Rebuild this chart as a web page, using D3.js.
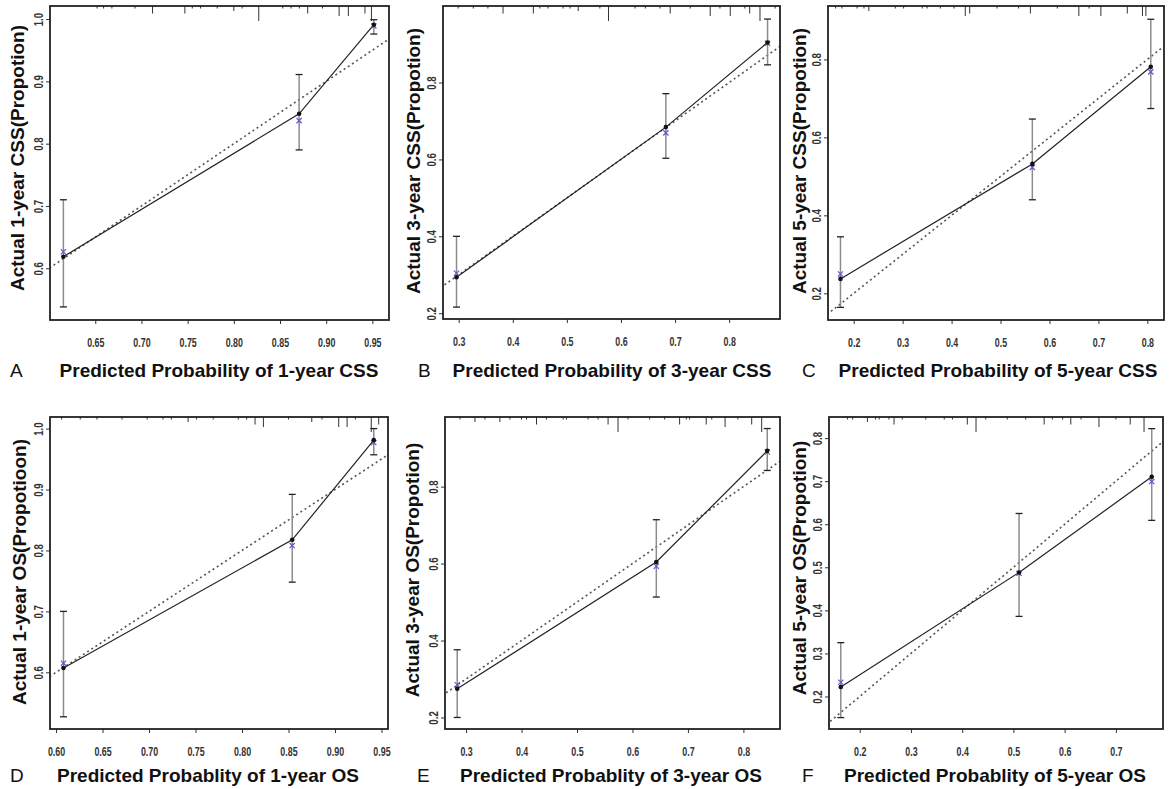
<!DOCTYPE html>
<html>
<head>
<meta charset="utf-8">
<script src="https://cdn.jsdelivr.net/npm/d3@7"></script>
<style>
  body { margin: 0; background: #fff; }
</style>
</head>
<body>
<div class="graph"></div>
<script>
// panel letters and axis titles
var panels = ["A", "B", "C", "D", "E", "F"];
var xTitles = [
  "Predicted Probability of 1-year CSS",
  "Predicted Probability of 3-year CSS",
  "Predicted Probability of 5-year CSS",
  "Predicted Probablity of 1-year OS",
  "Predicted Probablity of 3-year OS",
  "Predicted Probablity of 5-year OS"
];
var yTitles = [
  "Actual 1-year CSS(Propotion)",
  "Actual 3-year CSS(Propotion)",
  "Actual 5-year CSS(Propotion)",
  "Actual 1-year OS(Propotioon)",
  "Actual 3-year OS(Propotion)",
  "Actual 5-year OS(Propotion)"
];

// axis limits and ticks
var xDomains = [[0.601, 0.968], [0.271, 0.894], [0.1475, 0.834], [0.5935, 0.957], [0.262, 0.866], [0.14, 0.792]];
var yDomains = [[0.517, 1.021], [0.185, 0.999], [0.1316, 0.937], [0.507, 1.019], [0.17, 0.981], [0.1245, 0.849]];
var xTicks = [
  [0.65, 0.70, 0.75, 0.80, 0.85, 0.90, 0.95],
  [0.3, 0.4, 0.5, 0.6, 0.7, 0.8],
  [0.2, 0.3, 0.4, 0.5, 0.6, 0.7, 0.8],
  [0.60, 0.65, 0.70, 0.75, 0.80, 0.85, 0.90, 0.95],
  [0.3, 0.4, 0.5, 0.6, 0.7, 0.8],
  [0.2, 0.3, 0.4, 0.5, 0.6, 0.7]
];
var yTicks = [
  [0.6, 0.7, 0.8, 0.9, 1.0],
  [0.2, 0.4, 0.6, 0.8],
  [0.2, 0.4, 0.6, 0.8],
  [0.6, 0.7, 0.8, 0.9, 1.0],
  [0.2, 0.4, 0.6, 0.8],
  [0.2, 0.3, 0.4, 0.5, 0.6, 0.7, 0.8]
];
var xFormats = [".2f", ".1f", ".1f", ".2f", ".1f", ".1f"];

// calibration groups: predicted, observed (KM), bias-corrected, CI
var predicted = [
  [0.6155, 0.8707, 0.9516],
  [0.296, 0.683, 0.871],
  [0.173, 0.565, 0.807],
  [0.608, 0.854, 0.9417],
  [0.284, 0.643, 0.843],
  [0.163, 0.511, 0.770]
];
var observed = [
  [0.6186, 0.848, 0.991],
  [0.2935, 0.684, 0.904],
  [0.237, 0.532, 0.781],
  [0.607, 0.8175, 0.981],
  [0.2745, 0.604, 0.893],
  [0.222, 0.488, 0.710]
];
var corrected = [
  [0.6266, 0.837, 0.989],
  [0.304, 0.669, 0.902],
  [0.2495, 0.523, 0.768],
  [0.615, 0.808, 0.977],
  [0.285, 0.593, 0.890],
  [0.233, 0.486, 0.699]
];
var lower = [
  [0.538, 0.790, 0.976],
  [0.216, 0.603, 0.846],
  [0.164, 0.440, 0.674],
  [0.527, 0.748, 0.957],
  [0.200, 0.513, 0.842],
  [0.151, 0.386, 0.609]
];
var upper = [
  [0.710, 0.911, 0.999],
  [0.400, 0.771, 0.965],
  [0.345, 0.647, 0.903],
  [0.700, 0.892, 1.000],
  [0.376, 0.714, 0.951],
  [0.325, 0.625, 0.822]
];

// rug of predicted probabilities along the top (value, relative count)
var rugValues = [
  [0.652, 0.659, 0.668, 0.693, 0.712, 0.747, 0.755, 0.764, 0.782, 0.800, 0.809, 0.827, 0.853, 0.862, 0.871, 0.880, 0.896, 0.914, 0.924, 0.942, 0.949],
  [0.299, 0.327, 0.354, 0.382, 0.438, 0.450, 0.465, 0.493, 0.506, 0.521, 0.561, 0.577, 0.626, 0.645, 0.672, 0.691, 0.728, 0.765, 0.783, 0.802, 0.829, 0.838, 0.857, 0.885],
  [0.163, 0.176, 0.207, 0.221, 0.231, 0.285, 0.302, 0.340, 0.350, 0.377, 0.405, 0.428, 0.437, 0.493, 0.537, 0.561, 0.616, 0.660, 0.681, 0.705, 0.759, 0.790, 0.797],
  [0.606, 0.626, 0.644, 0.671, 0.698, 0.715, 0.724, 0.742, 0.751, 0.769, 0.796, 0.805, 0.814, 0.823, 0.850, 0.875, 0.886, 0.904, 0.913, 0.922, 0.939, 0.947],
  [0.289, 0.316, 0.334, 0.361, 0.379, 0.400, 0.409, 0.427, 0.445, 0.475, 0.481, 0.520, 0.538, 0.556, 0.574, 0.592, 0.631, 0.658, 0.685, 0.697, 0.703, 0.733, 0.743, 0.767, 0.790, 0.815, 0.833],
  [0.176, 0.186, 0.215, 0.231, 0.238, 0.257, 0.267, 0.283, 0.329, 0.365, 0.381, 0.410, 0.427, 0.446, 0.488, 0.524, 0.560, 0.576, 0.596, 0.612, 0.632, 0.667, 0.700, 0.728, 0.755]
];
var rugCounts = [
  [1, 1, 1, 1, 3, 3, 1, 1, 1, 2, 1, 6, 1, 1, 1, 3, 1, 4, 4, 3, 6],
  [1, 1, 1, 3, 3, 1, 1, 1, 1, 2, 1, 6, 1, 1, 1, 3, 1, 4, 1, 4, 1, 3, 6, 1],
  [1, 1, 1, 1, 2, 1, 1, 1, 1, 1, 1, 4, 3, 1, 1, 3, 1, 4, 1, 4, 3, 4, 4],
  [1, 1, 1, 1, 1, 1, 1, 2, 1, 1, 1, 1, 3, 4, 1, 2, 1, 4, 4, 1, 6, 3],
  [1, 2, 1, 2, 1, 1, 1, 3, 1, 1, 1, 1, 1, 3, 6, 1, 1, 1, 3, 1, 1, 3, 1, 4, 1, 3, 6],
  [1, 1, 2, 1, 1, 1, 3, 1, 1, 1, 1, 3, 6, 1, 1, 1, 3, 1, 1, 3, 1, 4, 1, 3, 6]
];

// layout of each panel on the page
var boxes = [
  {l: 50,  t: 6,   r: 389,  b: 320, letterX: 10,  titleCx: 219, base: 377, yTitleX: 24,  yTitleCy: 158},
  {l: 443, t: 6,   r: 780,  b: 319, letterX: 418, titleCx: 612, base: 377, yTitleX: 420, yTitleCy: 161},
  {l: 828, t: 6,   r: 1164, b: 320, letterX: 802, titleCx: 998, base: 377, yTitleX: 806, yTitleCy: 161},
  {l: 50,  t: 417, r: 388,  b: 729, letterX: 10,  titleCx: 208, base: 782, yTitleX: 26,  yTitleCy: 572},
  {l: 445, t: 417, r: 780,  b: 729, letterX: 417, titleCx: 611, base: 782, yTitleX: 419, yTitleCy: 570},
  {l: 829, t: 417, r: 1163, b: 729, letterX: 802, titleCx: 995, base: 782, yTitleX: 806, yTitleCy: 568}
];

var width = 1169,
    height = 789;
var font = "'Liberation Sans', Arial, Helvetica, sans-serif";

var svg = d3.select(".graph").append("svg")
    .attr("width", width)
    .attr("height", height)
    .style("font-family", font);

panels.forEach(function(letter, i) {
  var box = boxes[i];
  var x = d3.scaleLinear().domain(xDomains[i]).range([box.l, box.r]);
  var y = d3.scaleLinear().domain(yDomains[i]).range([box.b, box.t]);
  var g = svg.append("g").attr("class", "panel");

  svg.append("clipPath").attr("id", "clip" + i)
    .append("rect")
      .attr("x", box.l).attr("y", box.t)
      .attr("width", box.r - box.l).attr("height", box.b - box.t);

  // ideal line
  var xd = xDomains[i];
  g.append("line")
      .attr("clip-path", "url(#clip" + i + ")")
      .attr("x1", x(xd[0] - 0.05)).attr("y1", y(xd[0] - 0.05))
      .attr("x2", x(xd[1] + 0.05)).attr("y2", y(xd[1] + 0.05))
      .attr("stroke", "#555")
      .attr("stroke-width", 1.6)
      .attr("stroke-dasharray", "2,3");

  // rug
  g.selectAll(".rug")
    .data(rugValues[i])
    .enter().append("line")
      .attr("class", "rug")
      .attr("x1", function(d) { return x(d); })
      .attr("x2", function(d) { return x(d); })
      .attr("y1", box.t)
      .attr("y2", function(d, j) { return box.t + rugCounts[i][j] * 2.5; })
      .attr("stroke", "#333")
      .attr("stroke-width", 1);

  var idx = d3.range(predicted[i].length);

  // error bars
  g.selectAll(".err")
    .data(idx)
    .enter().append("line")
      .attr("class", "err")
      .attr("x1", function(j) { return x(predicted[i][j]); })
      .attr("x2", function(j) { return x(predicted[i][j]); })
      .attr("y1", function(j) { return y(lower[i][j]); })
      .attr("y2", function(j) { return y(upper[i][j]); })
      .attr("stroke", "#8c8c8c")
      .attr("stroke-width", 1.5);

  [lower[i], upper[i]].forEach(function(arr) {
    g.selectAll(null)
      .data(idx)
      .enter().append("line")
        .attr("x1", function(j) { return x(predicted[i][j]) - 3.5; })
        .attr("x2", function(j) { return x(predicted[i][j]) + 3.5; })
        .attr("y1", function(j) { return y(arr[j]); })
        .attr("y2", function(j) { return y(arr[j]); })
        .attr("stroke", "#222")
        .attr("stroke-width", 1.3);
  });

  // observed line
  var line = d3.line()
      .x(function(j) { return x(predicted[i][j]); })
      .y(function(j) { return y(observed[i][j]); });
  g.append("path")
      .datum(idx)
      .attr("d", line)
      .attr("fill", "none")
      .attr("stroke", "#222")
      .attr("stroke-width", 1.2);

  // bias corrected x marks
  g.selectAll(".xmark")
    .data(idx)
    .enter().append("path")
      .attr("class", "xmark")
      .attr("d", function(j) {
        var cx = x(predicted[i][j]), cy = y(corrected[i][j]), s = 2.6;
        return "M" + (cx - s) + "," + (cy - s) + "L" + (cx + s) + "," + (cy + s) +
               "M" + (cx - s) + "," + (cy + s) + "L" + (cx + s) + "," + (cy - s);
      })
      .attr("stroke", "#5a5ad0")
      .attr("stroke-width", 1.2);

  // observed dots
  g.selectAll(".dot")
    .data(idx)
    .enter().append("circle")
      .attr("class", "dot")
      .attr("cx", function(j) { return x(predicted[i][j]); })
      .attr("cy", function(j) { return y(observed[i][j]); })
      .attr("r", 2.3)
      .attr("fill", "#111");

  // axes
  var xAxis = g.append("g")
      .attr("transform", "translate(0," + box.b + ")")
      .call(d3.axisBottom(x).tickValues(xTicks[i]).tickFormat(d3.format(xFormats[i])).tickSize(4).tickSizeOuter(0));
  xAxis.select(".domain").remove();
  xAxis.selectAll("text")
      .attr("y", 27).attr("dy", 0)
      .attr("transform", "scale(0.74,1)")
      .style("font-family", font)
      .style("font-size", "12px")
      .style("font-weight", "bold")
      .attr("fill", "#333");

  var yAxis = g.append("g")
      .attr("transform", "translate(" + box.l + ",0)")
      .call(d3.axisLeft(y).tickValues(yTicks[i]).tickFormat(d3.format(".1f")).tickSize(4).tickSizeOuter(0));
  yAxis.select(".domain").remove();
  yAxis.selectAll("text")
      .attr("x", 0).attr("y", -7).attr("dy", 0)
      .attr("transform", "rotate(-90) scale(0.8,1)")
      .style("text-anchor", "middle")
      .style("font-family", font)
      .style("font-size", "12px")
      .style("font-weight", "bold")
      .attr("fill", "#333");
  g.selectAll(".tick line").attr("stroke", "#333");

  // frame
  g.append("rect")
      .attr("x", box.l).attr("y", box.t)
      .attr("width", box.r - box.l).attr("height", box.b - box.t)
      .attr("fill", "none")
      .attr("stroke", "#222")
      .attr("stroke-width", 1.8);

  // titles
  g.append("text")
      .attr("x", box.titleCx).attr("y", box.base)
      .attr("text-anchor", "middle")
      .style("font-size", "19px")
      .style("font-weight", "bold")
      .attr("fill", "#111")
      .text(xTitles[i]);

  g.append("text")
      .attr("x", box.letterX).attr("y", box.base)
      .style("font-size", "19px")
      .attr("fill", "#111")
      .text(letter);

  g.append("text")
      .attr("transform", "translate(" + box.yTitleX + "," + box.yTitleCy + ") rotate(-90)")
      .attr("text-anchor", "middle")
      .style("font-size", "19px")
      .style("font-weight", "bold")
      .attr("fill", "#111")
      .text(yTitles[i]);
});
</script>
</body>
</html>
